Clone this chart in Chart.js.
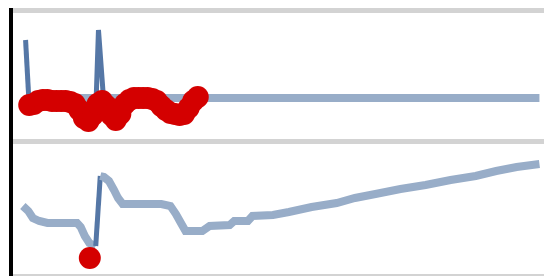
<!DOCTYPE html>
<html>
<head>
<meta charset="utf-8">
<script src="https://cdn.jsdelivr.net/npm/chart.js@4"></script>
<style>
  html, body { margin: 0; padding: 0; background: #fff; }
  #wrap { position: relative; width: 544px; height: 276px; overflow: hidden; }
  canvas { position: absolute; left: 0; }
  #chart-upper { top: 0; }
  #chart-lower { top: 136px; }
</style>
</head>
<body>
<div id="wrap">
  <canvas id="chart-upper" width="544" height="140"></canvas>
  <canvas id="chart-lower" width="544" height="140"></canvas>
</div>
<script>
// shared time range
const timeMin = 0;
const timeMax = 117;

// upper panel, main trace
const upperTimes  = [3.2, 3.9, 18.7, 19.2, 20.3, 116];
const upperValues = [100, 42, 42, 110, 42, 42];

// upper panel, flagged samples (red)
const flaggedTimes  = [4, 5, 6, 7, 8, 9, 10, 11, 12, 13, 14, 15, 16, 17, 18, 19, 20, 21, 22,
                       23, 24, 25, 26, 27, 28, 29, 30, 31, 32, 33, 34, 35, 36, 37, 38, 39, 40, 41];
const flaggedValues = [35, 36, 39, 40, 40, 39, 39, 39, 39, 38, 36, 30, 22, 19, 25, 36, 39, 34, 25,
                       20, 26, 36, 40, 42, 42, 42, 42, 41, 39, 34, 30, 27, 26, 25, 26, 32, 39, 43];

// lower panel, trace
const lowerTimes  = [2.6, 3.8, 4.8, 6.2, 8, 14.5, 15.3, 16.2, 17.2, 18.6, 19.6, 20.4, 21.5, 22.6,
                     23.5, 24.5, 33, 35, 36.2, 37.3, 38.3, 42, 43.6, 48, 49, 52, 53, 57.5,
                     61, 66, 71.5, 75.5, 80, 85.5, 91, 96.5, 102, 106.5, 111, 116];
const lowerValues = [69, 64, 57, 54, 52, 52, 48, 39, 32, 29, 99, 98, 94, 85,
                     77, 71, 71, 69, 61, 52, 44, 44, 49, 50, 54, 54, 59, 60,
                     63, 68, 72, 77, 81, 86, 90, 95, 99, 104, 108, 111];

// lower panel, lowest reading marker
const lowMarkTimes  = [17.3];
const lowMarkValues = [17];

const traceColor = '#98adc8';
const steepColor = '#5577a6';
const flagColor = '#d40000';
const frameGray = '#d3d3d3';

function toPoints(times, values) {
    return times.map((t, i) => ({ x: t, y: values[i] }));
}

// near-vertical pieces of the trace look thinner and darker in the original
function isSteep(ctx) {
    const dx = Math.abs(ctx.p1.x - ctx.p0.x);
    const dy = Math.abs(ctx.p1.y - ctx.p0.y);
    return dy > dx * 3;
}

const traceSegment = {
    borderColor: ctx => isSteep(ctx) ? steepColor : undefined,
    borderWidth: ctx => isSteep(ctx) ? 5 : undefined
};

function hiddenAxis(extra) {
    return Object.assign({
        type: 'linear',
        ticks: { display: false },
        grid: { display: false, drawTicks: false }
    }, extra);
}

function baseOptions(padding, scales) {
    return {
        responsive: false,
        animation: false,
        events: [],
        layout: { padding: padding, autoPadding: false },
        plugins: { legend: { display: false }, tooltip: { enabled: false } },
        scales: scales
    };
}

new Chart(document.getElementById('chart-upper'), {
    type: 'line',
    data: {
        datasets: [
            {
                label: 'flagged',
                data: toPoints(flaggedTimes, flaggedValues),
                showLine: false,
                pointRadius: 11,
                pointBorderWidth: 0,
                pointBackgroundColor: flagColor
            },
            {
                label: 'trace',
                data: toPoints(upperTimes, upperValues),
                borderColor: traceColor,
                borderWidth: 8,
                pointRadius: 0,
                tension: 0,
                segment: traceSegment
            }
        ]
    },
    options: baseOptions({ top: 10, left: 11, right: 0, bottom: 0 }, {
        x: hiddenAxis({ position: 'top', min: timeMin, max: timeMax, border: { color: frameGray, width: 5 } }),
        y: hiddenAxis({ min: 0, max: 130, border: { color: '#000', width: 4 } })
    })
});

new Chart(document.getElementById('chart-lower'), {
    type: 'line',
    data: {
        datasets: [
            {
                label: 'lowest',
                data: toPoints(lowMarkTimes, lowMarkValues),
                showLine: false,
                pointRadius: 11,
                pointBorderWidth: 0,
                pointBackgroundColor: flagColor
            },
            {
                label: 'trace',
                data: toPoints(lowerTimes, lowerValues),
                borderColor: traceColor,
                borderWidth: 8,
                pointRadius: 0,
                tension: 0,
                segment: traceSegment
            }
        ]
    },
    options: baseOptions({ top: 5, left: 11, right: 0, bottom: 1 }, {
        x: hiddenAxis({ position: 'top', min: timeMin, max: timeMax, border: { color: frameGray, width: 5 } }),
        x2: hiddenAxis({ position: 'bottom', min: timeMin, max: timeMax, border: { color: frameGray, width: 2 } }),
        y: hiddenAxis({ min: 0, max: 134, border: { color: '#000', width: 4 } })
    })
});
</script>
</body>
</html>
